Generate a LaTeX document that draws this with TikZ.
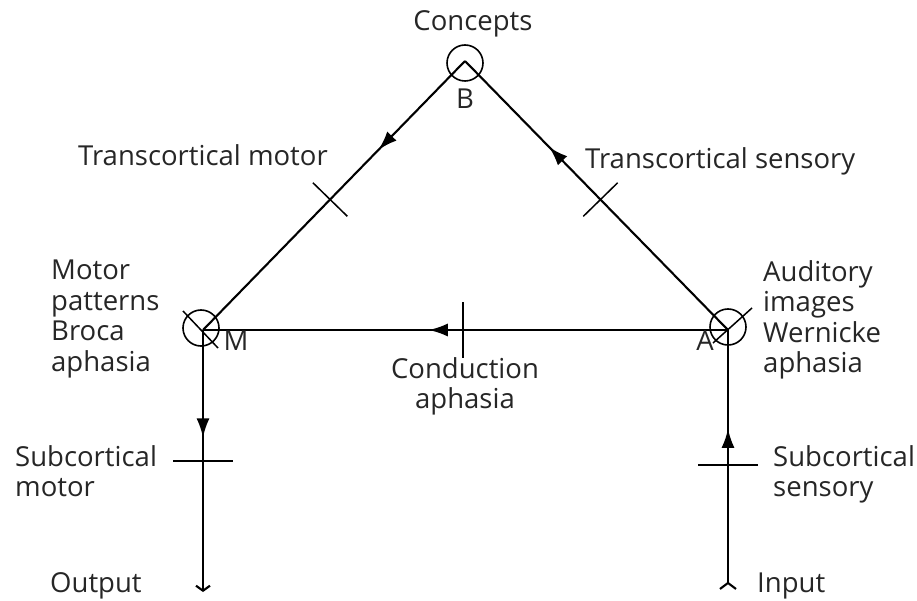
\documentclass[tikz,border=0pt]{standalone}
\usepackage{fontspec}
\setmainfont{Open Sans}
\usetikzlibrary{arrows.meta,decorations.markings}
\tikzset{
  lbl/.style={inner sep=0pt, font=\fontsize{27.5}{30.5}\selectfont, text=black!85},
  ring/.style={circle, draw, line width=1.6pt, minimum size=36pt, inner sep=0pt},
  wire/.style={line width=2.1pt},
  tipat/.style={postaction={decorate, decoration={markings, mark=at position #1 with {\arrow{Latex[length=19pt,width=13pt]}}}}},
  tickat/.style 2 args={postaction={decorate, decoration={markings, mark=at position #1 with {\draw[-, line width=1.5pt] (0,-#2) -- (0,#2);}}}}
}
\begin{document}
\begin{tikzpicture}[x=1pt,y=-1pt]
\useasboundingbox (0,0) rectangle (917,601);
% junction circles
\node[ring] (B) at (465,63) {};
\node[ring] (M) at (201,328) {};
\node[ring] (A) at (728,327) {};
\coordinate (Bapex) at (465,61);
\coordinate (Mc) at (203,330);
\coordinate (Ac) at (728,330);
\coordinate (out) at (203,592);
\coordinate (in) at (728,590);
% slashes through M and A
\draw[line width=1.5pt] ([shift={(-18,-17)}]M.center) -- ([shift={(17,20)}]M.center);
\draw[line width=1.5pt] ([shift={(-15,16)}]A.center) -- ([shift={(24,-19)}]A.center);
% triangle sides
\draw[wire, tipat=0.33, tickat={0.515}{24pt}] (Bapex) -- (Mc);
\draw[wire, tipat=0.68, tickat={0.485}{24pt}] (Ac) -- (Bapex);
\draw[wire, tipat=0.57, tickat={0.505}{28pt}] (Ac) -- (Mc);
% verticals
\draw[wire, tipat=0.41, tickat={0.50}{30pt}, -{Straight Barb[length=5pt,width=14pt]}] (Mc) -- (out);
\draw[wire, tipat=0.62, tickat={0.48}{30pt}, {Straight Barb[reversed,length=6pt,width=16pt]}-] (in) -- (Ac);
% labels
\node[lbl, anchor=base] (tC) at (473,31) {Concepts};
\node[lbl, anchor=base] (tB) at (465,109) {B};
\node[lbl, anchor=base] (tM) at (236,350) {M};
\node[lbl, anchor=base] (tA) at (705,350) {A};
\node[lbl, anchor=base west] (tTM) at (78,166) {Transcortical motor};
\node[lbl, anchor=base west] (tTS) at (585,169) {Transcortical sensory};
\node[lbl, anchor=north west, align=left] (tMP) at (51,260) {Motor\\patterns\\Broca\\aphasia};
\node[lbl, anchor=north west, align=left] (tAI) at (763,260) {Auditory\\images\\Wernicke\\aphasia};
\node[lbl, anchor=north, align=center] (tCA) at (465,357) {Conduction\\aphasia};
\node[lbl, anchor=north west, align=left] (tSM) at (15,445) {Subcortical\\motor};
\node[lbl, anchor=north west, align=left] (tSS) at (773,445) {Subcortical\\sensory};
\node[lbl, anchor=base west] (tO) at (50,592) {Output};
\node[lbl, anchor=base west] (tI) at (757,592) {Input};
\end{tikzpicture}
\end{document}
